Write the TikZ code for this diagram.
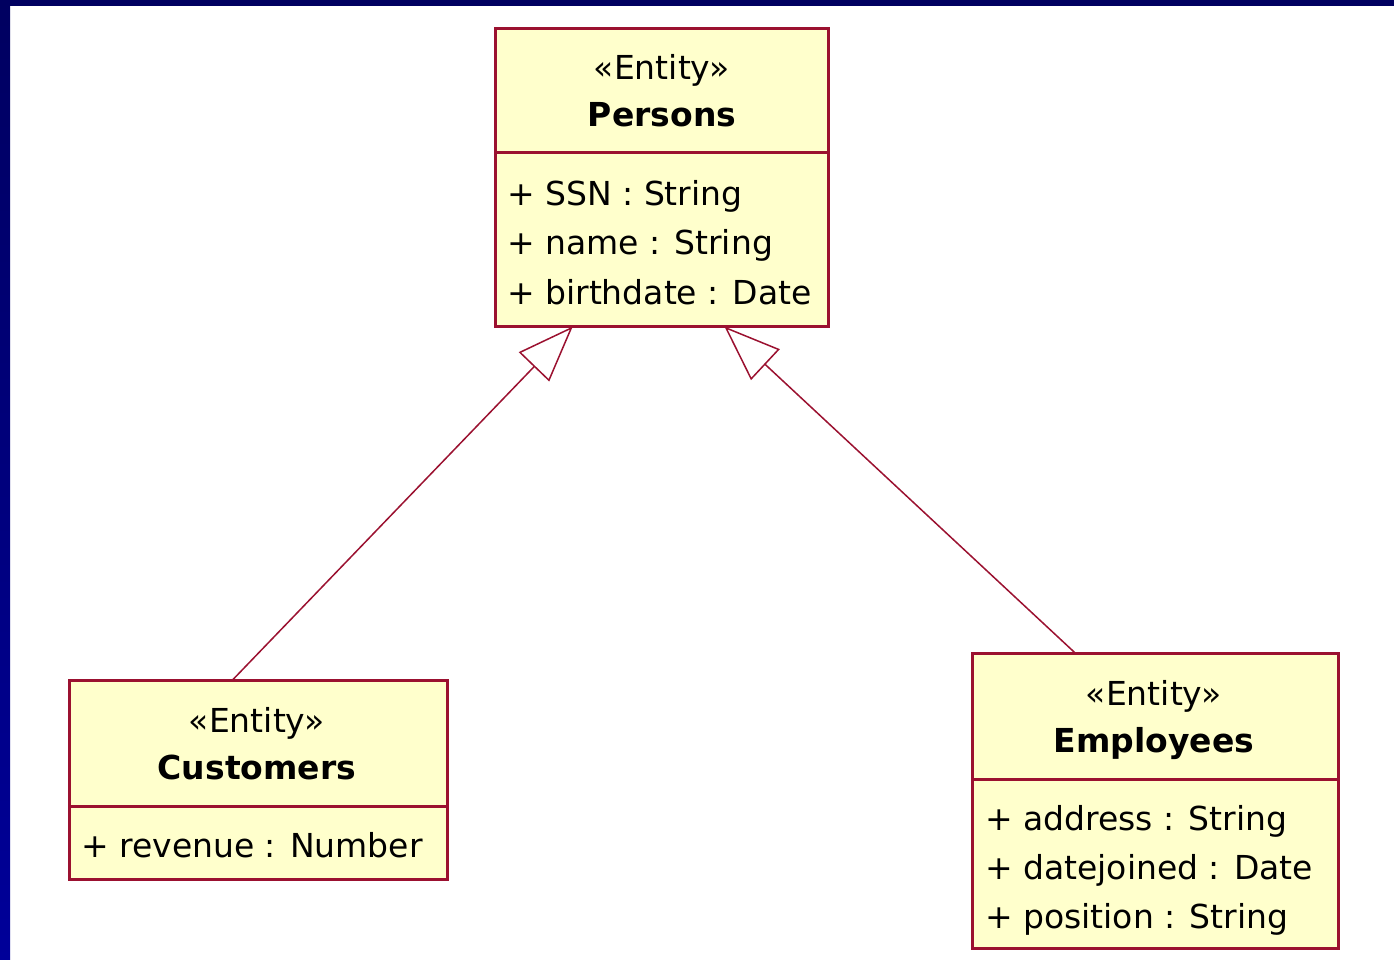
\documentclass[tikz,border=0pt]{standalone}
\usepackage{fontspec}
\setmainfont{DejaVu Sans}
\usetikzlibrary{arrows.meta,calc}
\definecolor{umlred}{RGB}{155,17,48}
\definecolor{umlfill}{RGB}{255,255,204}
\definecolor{navytop}{RGB}{0,0,96}
\definecolor{navybot}{RGB}{0,0,153}

\begin{document}
\begin{tikzpicture}[x=1pt,y=-1pt,
  classbox/.style={draw=umlred, fill=umlfill, line width=3pt, inner sep=0pt, outer sep=0pt},
  divider/.style={draw=umlred, line width=3pt},
  stereo/.style={font=\fontsize{33}{40}\selectfont, inner sep=0pt, anchor=base},
  cname/.style={font=\fontsize{33}{40}\selectfont\bfseries, inner sep=0pt, anchor=base},
  attr/.style={font=\fontsize{33}{40}\selectfont, inner sep=0pt, anchor=base west},
  gen/.style={draw=umlred, line width=1.5pt,
    -{Triangle[open, length=56pt, width=42pt]}},
]
% page frame
\useasboundingbox (0,0) rectangle (1394,960);
\fill[white] (0,0) rectangle (1394,960);
\shade[top color=navytop, bottom color=navybot] (0,0) rectangle (10,960);
\fill[navytop] (0,0) rectangle (1394,6);

% Persons
\node[classbox, minimum width=333pt, minimum height=298pt] (persons) at (662,177.5) {};
\draw[divider] (persons.west |- 0,153) -- (persons.east |- 0,153);
\node[stereo] (persons-st) at (662,80) {«Entity»};
\node[cname] (persons-nm) at (662,127) {Persons};
\node[attr] (persons-a1) at (507,205) {+ SSN : String};
\node[attr] (persons-a2) at (507,254.5) {+ name : String};
\node[attr] (persons-a3) at (507,304) {+ birthdate : Date};

% Customers
\node[classbox, minimum width=378pt, minimum height=199pt] (cust) at (258.5,780) {};
\draw[divider] (cust.west |- 0,806) -- (cust.east |- 0,806);
\node[stereo] (cust-st) at (257,732) {«Entity»};
\node[cname] (cust-nm) at (257,779) {Customers};
\node[attr] (cust-a1) at (81,857) {+ revenue : Number};

% Employees
\node[classbox, minimum width=366pt, minimum height=295pt] (emp) at (1155.5,801) {};
\draw[divider] (emp.west |- 0,779) -- (emp.east |- 0,779);
\node[stereo] (emp-st) at (1154,705) {«Entity»};
\node[cname] (emp-nm) at (1154,752) {Employees};
\node[attr] (emp-a1) at (985,830) {+ address : String};
\node[attr] (emp-a2) at (985,879) {+ datejoined : Date};
\node[attr] (emp-a3) at (985,928) {+ position : String};

% generalisations
\draw[gen] ($(cust.north west)!0.43!(cust.north east)$)
  -- ($(persons.south west)!0.232!(persons.south east)$);
\draw[gen] ($(emp.north west)!0.282!(emp.north east)$)
  -- ($(persons.south west)!0.6875!(persons.south east)$);
\end{tikzpicture}
\end{document}
